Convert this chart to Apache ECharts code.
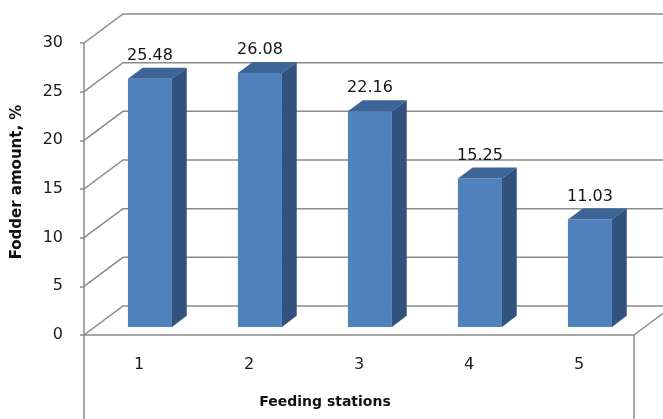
<!DOCTYPE html>
<html>
<head>
<meta charset="utf-8">
<style>
  html, body { margin: 0; padding: 0; background: #ffffff; }
  #chart { width: 663px; height: 419px; }
</style>
<script src="https://cdn.jsdelivr.net/npm/echarts@6/dist/echarts.min.js"></script>
</head>
<body>
<div id="chart"></div>
<script>
// Feeding station shares of total fodder
const categories = ['1', '2', '3', '4', '5'];
const fodder = [25.48, 26.08, 22.16, 15.25, 11.03];
const gridValues = [0, 5, 10, 15, 20, 25, 30];

// Pseudo-3D geometry (pixels): wall depth and where the columns sit within it
const WALL_DX = 39, WALL_DY = -29;
const FACE_FRAC = 0.28;   // front face of a column, as fraction of depth
const DEPTH_FRAC = 0.38;  // column thickness, as fraction of depth
const LINE_COLOR = '#8a8a8a';
const FRONT = '#4f81bd', TOP = '#3c6496', SIDE = '#31527d';
const TEXT_FONT = '"DejaVu Sans", Verdana, sans-serif';
const TITLE_FONT = '"DejaVu Sans", Tahoma, sans-serif';

const chart = echarts.init(document.getElementById('chart'));

function renderWall(params, api) {
  const cs = params.coordSys;
  const v = api.value(0);
  const p = api.coord([0, v]);
  const y = p[1];
  const left = cs.x, right = cs.x + cs.width;
  const style = { stroke: LINE_COLOR, lineWidth: 1.5, fill: null };
  const children = [{
    type: 'polyline',
    shape: { points: [[left, y], [left + WALL_DX, y + WALL_DY], [right + WALL_DX, y + WALL_DY]] },
    style: style
  }];
  if (v === 0) {
    const h = api.getHeight();
    children.push(
      { type: 'line', shape: { x1: right, y1: y, x2: right + WALL_DX, y2: y + WALL_DY }, style: style },
      { type: 'line', shape: { x1: left, y1: y, x2: left, y2: h }, style: style },
      { type: 'line', shape: { x1: right, y1: y, x2: right, y2: h }, style: style }
    );
  }
  return { type: 'group', children: children };
}

function renderColumn(params, api) {
  const idx = api.value(0);
  const val = api.value(1);
  const base = api.coord([idx, 0]);
  const top = api.coord([idx, val]);
  const band = api.size([1, 0])[0];
  const w = band * 0.4;
  const fdx = WALL_DX * FACE_FRAC, fdy = WALL_DY * FACE_FRAC;
  const ddx = WALL_DX * DEPTH_FRAC, ddy = WALL_DY * DEPTH_FRAC;
  const cx = base[0] + fdx;
  const yb = base[1] + fdy;
  const yt = top[1] + fdy;
  const L = cx - w / 2, R = cx + w / 2;
  return {
    type: 'group',
    children: [
      { type: 'rect', shape: { x: L, y: yt, width: w, height: yb - yt }, style: { fill: FRONT } },
      { type: 'polygon', shape: { points: [[L, yt], [R, yt], [R + ddx, yt + ddy], [L + ddx, yt + ddy]] }, style: { fill: TOP } },
      { type: 'polygon', shape: { points: [[R, yt], [R + ddx, yt + ddy], [R + ddx, yb + ddy], [R, yb]] }, style: { fill: SIDE } },
      {
        type: 'text',
        style: {
          x: cx, y: yt - 23, text: val.toFixed(2),
          align: 'center', verticalAlign: 'middle',
          font: '16px ' + TEXT_FONT, fill: '#151515'
        }
      }
    ]
  };
}

chart.setOption({
  animation: false,
  backgroundColor: '#ffffff',
  grid: { left: 84, right: 29, top: 43, bottom: 84 },
  xAxis: {
    type: 'category',
    data: categories,
    axisLine: { show: true, lineStyle: { color: LINE_COLOR, width: 1.5 } },
    axisTick: { show: false },
    axisLabel: { margin: 22, color: '#1a1a1a', fontSize: 16, fontFamily: TEXT_FONT },
    splitLine: { show: false }
  },
  yAxis: {
    type: 'value',
    min: 0, max: 30, interval: 5,
    axisLine: { show: true, lineStyle: { color: LINE_COLOR, width: 1.5 } },
    axisTick: { show: true, length: 4, lineStyle: { color: LINE_COLOR, width: 1.5 } },
    axisLabel: { margin: 21, color: '#1a1a1a', fontSize: 16, fontFamily: TEXT_FONT },
    splitLine: { show: false }
  },
  graphic: [
    {
      type: 'text', x: 17, y: 182, rotation: Math.PI / 2,
      style: {
        text: 'Fodder amount, %', align: 'center', verticalAlign: 'middle',
        font: 'bold 15px ' + TITLE_FONT, fill: '#111111'
      }
    },
    {
      type: 'text', x: 325, y: 402,
      style: {
        text: 'Feeding stations', align: 'center', verticalAlign: 'middle',
        font: 'bold 14px ' + TITLE_FONT, fill: '#111111'
      }
    }
  ],
  series: [
    {
      type: 'custom',
      name: 'walls',
      z: 1,
      silent: true,
      renderItem: renderWall,
      data: gridValues.map(v => [v]),
      encode: { y: 0 }
    },
    {
      type: 'custom',
      name: 'Fodder amount',
      z: 5,
      renderItem: renderColumn,
      data: fodder.map((v, i) => [i, v]),
      encode: { x: 0, y: 1 }
    }
  ]
});
</script>
</body>
</html>
